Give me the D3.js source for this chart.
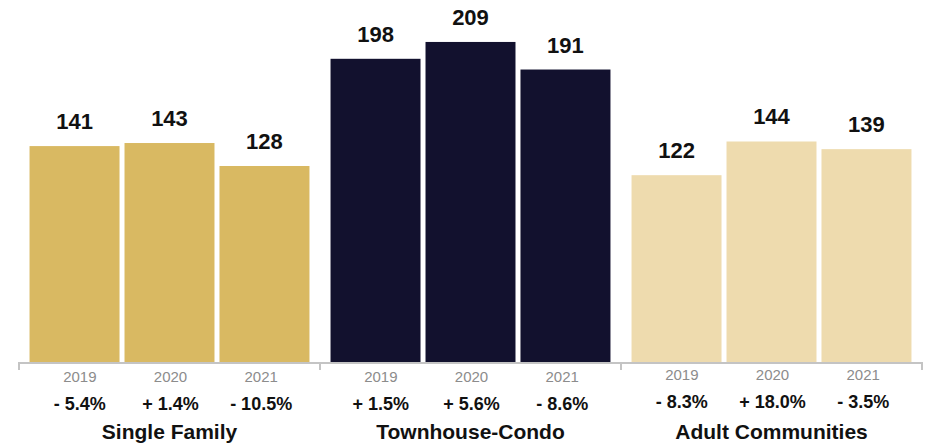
<!DOCTYPE html>
<html>
<head>
<meta charset="utf-8">
<script src="https://cdn.jsdelivr.net/npm/d3@7"></script>
<style>
  body { margin: 0; background: #fff; }
  text { font-family: "Liberation Sans", Arial, Helvetica, sans-serif; }
</style>
</head>
<body>
<svg id="chart" width="930" height="448"></svg>
<script>
var categories = ['Single Family', 'Townhouse-Condo', 'Adult Communities'];
var years = ['2019', '2020', '2021'];
var singleFamily = [141, 143, 128];
var townhouseCondo = [198, 209, 191];
var adultCommunities = [122, 144, 139];
var singleFamilyChange = ['- 5.4%', '+ 1.4%', '- 10.5%'];
var townhouseChange = ['+ 1.5%', '+ 5.6%', '- 8.6%'];
var adultChange = ['- 8.3%', '+ 18.0%', '- 3.5%'];
var colors = ['#D9B962', '#12112E', '#EEDBAE'];

var values = [singleFamily, townhouseCondo, adultCommunities];
var changes = [singleFamilyChange, townhouseChange, adultChange];
var labelShift = [0, 0, -2]; // last group's labels sit a touch higher

var svg = d3.select('#chart');
var baseY = 362;

var x0 = d3.scaleBand()
    .domain(categories)
    .range([19, 922])
    .paddingInner(0.07)
    .paddingOuter(0.035);

var x1 = d3.scaleBand()
    .domain(years)
    .range([0, x0.bandwidth()])
    .paddingInner(0.0526);

// bottom labels use a slightly narrower grid than the bars
var xl = d3.scaleBand()
    .domain(years)
    .range([x0.bandwidth() / 2 - 135, x0.bandwidth() / 2 + 137]);

var y = d3.scaleLinear()
    .domain([0, 236.4])
    .range([baseY, 0]);

var groups = svg.selectAll('.group')
    .data(categories)
    .join('g')
    .attr('class', 'group')
    .attr('transform', d => 'translate(' + x0(d) + ',0)');

groups.selectAll('rect')
    .data((d, i) => years.map((yr, j) => ({year: yr, value: values[i][j], color: colors[i]})))
    .join('rect')
    .attr('x', d => x1(d.year))
    .attr('y', d => y(d.value))
    .attr('width', x1.bandwidth())
    .attr('height', d => baseY - y(d.value))
    .attr('fill', d => d.color);

groups.selectAll('.val')
    .data((d, i) => years.map((yr, j) => ({year: yr, value: values[i][j]})))
    .join('text')
    .attr('class', 'val')
    .attr('x', d => x1(d.year) + x1.bandwidth() / 2)
    .attr('y', d => y(d.value) - 17)
    .attr('text-anchor', 'middle')
    .style('font-size', '22px')
    .style('font-weight', 'bold')
    .style('fill', '#111')
    .text(d => d.value);

groups.selectAll('.yr')
    .data((d, i) => years.map(yr => ({year: yr, shift: labelShift[i]})))
    .join('text')
    .attr('class', 'yr')
    .attr('x', d => xl(d.year) + xl.bandwidth() / 2)
    .attr('y', d => 382 + d.shift)
    .attr('text-anchor', 'middle')
    .style('font-size', '15px')
    .style('fill', '#8c8c8c')
    .text(d => d.year);

groups.selectAll('.chg')
    .data((d, i) => years.map((yr, j) => ({year: yr, change: changes[i][j], shift: labelShift[i]})))
    .join('text')
    .attr('class', 'chg')
    .attr('x', d => xl(d.year) + xl.bandwidth() / 2)
    .attr('y', d => 410 + d.shift)
    .attr('text-anchor', 'middle')
    .style('font-size', '18px')
    .style('font-weight', 'bold')
    .style('fill', '#111')
    .text(d => d.change);

groups.append('text')
    .attr('x', x0.bandwidth() / 2)
    .attr('y', 439)
    .attr('text-anchor', 'middle')
    .style('font-size', '21px')
    .style('font-weight', 'bold')
    .style('fill', '#111')
    .text(d => d);

// axis line with ticks at group boundaries
var step = x0.step();
var bounds = [0, 1, 2, 3].map(i => 19 + i * step);
svg.append('line')
    .attr('x1', bounds[0]).attr('x2', bounds[3])
    .attr('y1', baseY + 1).attr('y2', baseY + 1)
    .attr('stroke', '#c4c4c4').attr('stroke-width', 2);
svg.selectAll('.tick')
    .data(bounds)
    .join('line')
    .attr('class', 'tick')
    .attr('x1', d => d).attr('x2', d => d)
    .attr('y1', baseY).attr('y2', baseY + 8)
    .attr('stroke', '#c4c4c4').attr('stroke-width', 2);
</script>
</body>
</html>
